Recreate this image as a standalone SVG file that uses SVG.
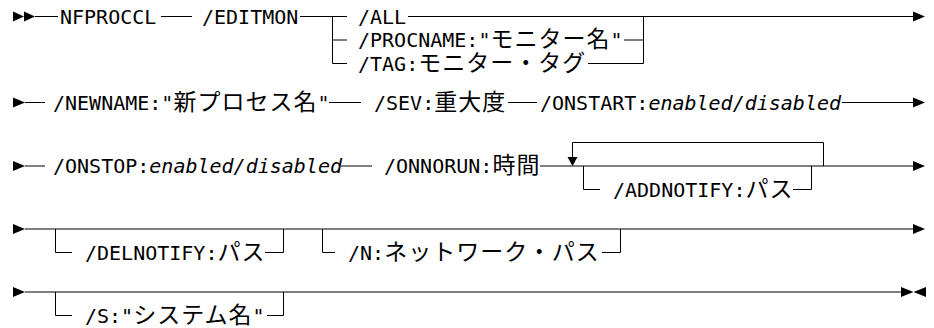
<svg xmlns="http://www.w3.org/2000/svg" width="934" height="328" viewBox="0 0 934 328">
<style>
.t{font-family:"DejaVu Sans Mono","Liberation Mono","Noto Sans CJK JP",monospace;font-size:20px;fill:#000}
.j{font-family:"Noto Sans CJK JP","Noto Sans CJK SC",sans-serif;font-size:23px;letter-spacing:1px}
.i{font-style:italic}
.ln{fill:none;stroke:#000;stroke-width:1}
.ah{fill:#000;stroke:none}
</style>
<rect width="934" height="328" fill="#fff"/>
<g id="connectors">
<polygon class="ah" points="13,11.5 13,21.5 24,16.5"/>
<polygon class="ah" points="24,11.5 24,21.5 35,16.5"/>
<path class="ln" d="M35,16.5 H58"/>
<path class="ln" d="M161,16.5 H192"/>
<path class="ln" d="M300,16.5 H347"/>
<path class="ln" d="M332.5,16.5 V63.5 H347 M332.5,40 H347"/>
<path class="ln" d="M408,16.5 H913"/>
<polygon class="ah" points="913,11.5 913,21.5 925,16.5"/>
<path class="ln" d="M624,40 H643.5 M588,63.5 H643.5 M643.5,16.5 V63.5"/>
<polygon class="ah" points="13,97.5 13,107.5 25,102.5"/>
<path class="ln" d="M25,102.5 H45 M329,102.5 H361 M508,102.5 H537 M842,102.5 H913"/>
<polygon class="ah" points="913,97.5 913,107.5 925,102.5"/>
<polygon class="ah" points="13,161 13,171 25,166"/>
<path class="ln" d="M25,166 H45 M341,166 H372 M540,166 H913"/>
<polygon class="ah" points="913,161 913,171 925,166"/>
<path class="ln" d="M823.5,166 V142.5 H572.5 V157"/>
<polygon class="ah" points="567.5,157 577.5,157 572.5,166"/>
<path class="ln" d="M583.5,166 V189.5 H600 M793,189.5 H811.5 V166"/>
<polygon class="ah" points="13,224 13,234 25,229"/>
<path class="ln" d="M25,229 H913"/>
<polygon class="ah" points="913,224 913,234 925,229"/>
<path class="ln" d="M55.5,229 V252.5 H72 M265,252.5 H283.5 V229"/>
<path class="ln" d="M322.5,229 V252.5 H335 M602,252.5 H620.5 V229"/>
<polygon class="ah" points="13,287 13,297 25,292"/>
<path class="ln" d="M25,292 H901"/>
<polygon class="ah" points="901,287 901,297 913.5,292"/>
<polygon class="ah" points="926,287 926,297 913.5,292"/>
<path class="ln" d="M55.5,292 V315.5 H72 M267,315.5 H283.5 V292"/>
</g>
<g id="n-nfproccl"><text class="t" x="60" y="23.5">NFPROCCL</text></g>
<g id="n-editmon"><text class="t" x="202" y="23.5">/EDITMON</text></g>
<g id="n-all"><text class="t" x="358" y="23.5">/ALL</text></g>
<g id="n-procname"><text class="t" x="358" y="47">/PROCNAME:"<tspan class="j">モニター名</tspan>"</text></g>
<g id="n-tag"><text class="t" x="358" y="70.5">/TAG:<tspan class="j">モニター・タグ</tspan></text></g>
<g id="n-newname"><text class="t" x="53" y="109.5">/NEWNAME:"<tspan class="j">新プロセス名</tspan>"</text></g>
<g id="n-sev"><text class="t" x="374" y="109.5">/SEV:<tspan class="j">重大度</tspan></text></g>
<g id="n-onstart"><text class="t" x="540" y="109.5">/ONSTART:<tspan class="i">enabled/disabled</tspan></text></g>
<g id="n-onstop"><text class="t" x="53" y="173">/ONSTOP:<tspan class="i">enabled/disabled</tspan></text></g>
<g id="n-onnorun"><text class="t" x="384" y="173">/ONNORUN:<tspan class="j">時間</tspan></text></g>
<g id="n-addnotify"><text class="t" x="613" y="196.5">/ADDNOTIFY:<tspan class="j">パス</tspan></text></g>
<g id="n-delnotify"><text class="t" x="85" y="259.5">/DELNOTIFY:<tspan class="j">パス</tspan></text></g>
<g id="n-n"><text class="t" x="348" y="259.5">/N:<tspan class="j">ネットワーク・パス</tspan></text></g>
<g id="n-s"><text class="t" x="85" y="322.5">/S:"<tspan class="j">システム名</tspan>"</text></g>
</svg>
